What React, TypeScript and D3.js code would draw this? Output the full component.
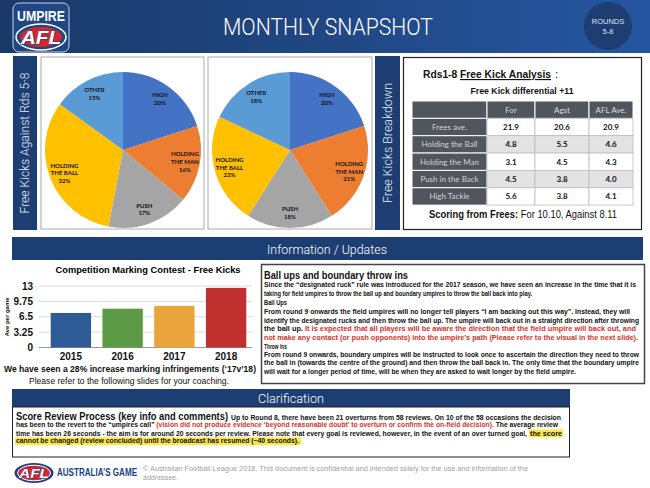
import React from "react";
import * as d3 from "d3";

// ---------- DATA ----------
const pieLabelLines = [["HIGH"], ["HOLDING", "THE MAN"], ["PUSH"], ["HOLDING", "THE BALL"], ["OTHER"]];
const freesAgainstPct = [20, 16, 17, 32, 15];
const freesBreakdownPct = [20, 21, 18, 23, 18];
const pieColors = ["#4472c4", "#ed7d31", "#a5a5a5", "#ffc000", "#5b9bd5"];

const tableColumns = ["For", "Agst", "AFL Ave."];
const tableRows = ["Frees ave.", "Holding the Ball", "Holding the Man", "Push in the Back", "High Tackle"];
const forValues = [21.9, 4.8, 3.1, 4.5, 5.6];
const agstValues = [20.6, 5.5, 4.5, 3.8, 3.8];
const aflAveValues = [20.9, 4.6, 4.3, 4.0, 4.1];

const years = ["2015", "2016", "2017", "2018"];
const markingFrees = [7.3, 8.2, 8.8, 12.6];
const yTicks = [0, 3.25, 6.5, 9.75, 13];
const barColors = ["#2e5a95", "#5c9a45", "#e9a53c", "#c0302e"];

const RED = "#d5322c";
type Seg = { t: string; c?: string };
const infoLines: { segs: Seg[]; head?: boolean; title?: boolean }[] = [
  { segs: [{ t: "Ball ups and boundary throw ins" }], title: true },
  { segs: [{ t: "Since the \u201cdesignated ruck\u201d rule was introduced for the 2017 season, we have seen an increase in the time that it is" }] },
  { segs: [{ t: "taking for field umpires to throw the ball up and boundary umpires to throw the ball back into play." }] },
  { segs: [{ t: "Ball Ups" }], head: true },
  { segs: [{ t: "From round 9 onwards the field umpires will no longer tell players \u201cI am backing out this way\u201d. Instead, they will" }] },
  { segs: [{ t: "identify the designated rucks and then throw the ball up. The umpire will back out in a straight direction after throwing" }] },
  { segs: [{ t: "the ball up.  " }, { t: "It is expected that all players will be aware the direction that the field umpire will back out, and", c: RED }] },
  { segs: [{ t: "not make any contact (or push opponents) into the umpire\u2019s path (Please refer to the visual in the next slide).", c: RED }] },
  { segs: [{ t: "Throw Ins" }], head: true },
  { segs: [{ t: "From round 9 onwards, boundary umpires will be instructed to look once to ascertain the direction they need to throw" }] },
  { segs: [{ t: "the ball in (towards the centre of the ground) and then throw the ball back in. The only time that the boundary umpire" }] },
  { segs: [{ t: "will wait for a longer period of time, will be when they are asked to wait longer by the field umpire." }] },
];
const infoY = [279, 287, 295.5, 305, 314, 322.5, 331, 339.5, 348.5, 356.5, 365, 373.5];
const infoLen = [144, 372, 268, 23, 366, 375, 372, 374, 23, 375, 375, 312];

const W = 650, H = 488;
const SANS = "'Liberation Sans', Arial, sans-serif";
const LIGHT = "Roboto, 'Liberation Sans', sans-serif";
const DARKBLUE = "#1c3e73";

function Pie({ cx, cy, values }: { cx: number; cy: number; values: number[] }) {
  const r = 78;
  const arcs = d3.pie<number>().sort(null).value((d) => d)(values);
  const arc = d3.arc<d3.PieArcDatum<number>>().innerRadius(0).outerRadius(r);
  const lab = d3.arc<d3.PieArcDatum<number>>().innerRadius(63).outerRadius(63);
  return (
    <g transform={`translate(${cx},${cy})`}>
      {arcs.map((a, i) => (
        <path key={i} d={arc(a) || ""} fill={pieColors[i]} />
      ))}
      {arcs.map((a, i) => {
        const [x, y] = lab.centroid(a);
        const lines = [...pieLabelLines[i], `${values[i]}%`];
        const lh = 7.6;
        const y0 = y - ((lines.length - 1) * lh) / 2 + 2.2;
        return (
          <text key={i} textAnchor="middle" fontFamily="Lato, sans-serif" fontWeight="bold" fontSize={6} fill="#111">
            {lines.map((l, j) => (
              <tspan key={j} x={x} y={y0 + j * lh}>{l}</tspan>
            ))}
          </text>
        );
      })}
    </g>
  );
}

function Table() {
  const colX = [412, 487, 535, 589, 633];
  const top = 101, rh = 17.35;
  const cols = [forValues, agstValues, aflAveValues];
  const fmt = d3.format(".1f");
  const dark = "#50555e";
  const out: React.ReactNode[] = [];
  for (let c = 0; c < 4; c++) {
    out.push(<rect key={`h${c}`} x={colX[c]} y={top} width={colX[c + 1] - colX[c]} height={rh} fill={dark} stroke="#fff" strokeWidth={1} />);
    if (c > 0)
      out.push(
        <text key={`ht${c}`} x={(colX[c] + colX[c + 1]) / 2} y={top + rh / 2 + 3} textAnchor="middle" fontSize={8} fontFamily="Lato, sans-serif" fill="#d9d9d9">
          {tableColumns[c - 1]}
        </text>
      );
  }
  tableRows.forEach((row, r) => {
    const y = top + rh * (r + 1);
    out.push(<rect key={`l${r}`} x={colX[0]} y={y} width={colX[1] - colX[0]} height={rh} fill={dark} stroke="#fff" strokeWidth={1} />);
    out.push(
      <text key={`lt${r}`} x={(colX[0] + colX[1]) / 2} y={y + rh / 2 + 3} textAnchor="middle" fontSize={8} fontFamily="Lato, sans-serif" fill="#d4d4d4">
        {row}
      </text>
    );
    cols.forEach((vals, c) => {
      out.push(<rect key={`c${r}${c}`} x={colX[c + 1]} y={y} width={colX[c + 2] - colX[c + 1]} height={rh} fill={r % 2 ? "#e3e3e3" : "#fff"} stroke="#bdbdbd" strokeWidth={0.8} />);
      out.push(
        <text key={`ct${r}${c}`} x={(colX[c + 1] + colX[c + 2]) / 2} y={y + rh / 2 + 3} textAnchor="middle" fontSize={8} fontWeight="bold" fontFamily="Lato, sans-serif" fill="#111">
          {fmt(vals[r])}
        </text>
      );
    });
  });
  return <g>{out}</g>;
}

function BarChart() {
  const x = d3.scaleBand<string>().domain(years).range([45, 252]).paddingInner(0.22).paddingOuter(0.11);
  const y = d3.scaleLinear().domain([0, 13]).range([347.5, 286]);
  return (
    <g>
      <text x={148} y={273} textAnchor="middle" fontSize={9} fontWeight="bold" fontFamily={SANS} textLength={185} lengthAdjust="spacingAndGlyphs">
        Competition Marking Contest - Free Kicks
      </text>
      {yTicks.map((t) => (
        <g key={t}>
          <line x1={39} x2={252} y1={y(t)} y2={y(t)} stroke={t === 0 ? "#999" : "#d0d0d0"} strokeWidth={t === 0 ? 1 : 0.8} />
          <text x={33} y={y(t) + 3.6} textAnchor="end" fontSize={10} fontWeight="bold" fontFamily={SANS} fill="#111">
            {t}
          </text>
        </g>
      ))}
      {years.map((yr, i) => (
        <rect key={yr} x={x(yr)} y={y(markingFrees[i])} width={x.bandwidth()} height={y(0) - y(markingFrees[i])} fill={barColors[i]} />
      ))}
      {years.map((yr) => (
        <text key={yr} x={(x(yr) || 0) + x.bandwidth() / 2} y={359.5} textAnchor="middle" fontSize={10} fontWeight="bold" fontFamily={SANS} fill="#111">
          {yr}
        </text>
      ))}
      <text transform="translate(9,317) rotate(-90)" textAnchor="middle" fontSize={6} fontWeight="bold" fontFamily={SANS} fill="#111">
        Ave per game
      </text>
      <text x={130} y={371.5} textAnchor="middle" fontSize={9.5} fontWeight="bold" fontFamily={SANS} textLength={252} lengthAdjust="spacingAndGlyphs" fill="#111">
        We have seen a 28% increase marking infringements (&#8216;17v&#8217;18)
      </text>
      <text x={129} y={384} textAnchor="middle" fontSize={9} fontFamily={SANS} textLength={200} lengthAdjust="spacingAndGlyphs" fill="#111">
        Please refer to the following slides for your coaching.
      </text>
    </g>
  );
}

export default function App() {
  return (
    <svg width={W} height={H} viewBox={`0 0 ${W} ${H}`} style={{ position: "absolute", left: 0, top: 0, background: "#fff" }} fontFamily={SANS}>
      <defs>
        <linearGradient id="hdr" x1="0" x2="1" y1="0" y2="0">
          <stop offset="0" stopColor="#1a3868" />
          <stop offset="1" stopColor="#2656a0" />
        </linearGradient>
      </defs>
      {/* Header */}
      <rect x={0} y={0} width={W} height={53} fill="url(#hdr)" />
      <g>
        <rect x={13} y={3} width={56} height={49} rx={6} fill="#1f4785" stroke="#c9d3e6" strokeWidth={1} />
        <text x={41} y={21} textAnchor="middle" fontSize={15} fontWeight="bold" fill="#fff" textLength={48} lengthAdjust="spacingAndGlyphs">
          UMPIRE
        </text>
        <ellipse cx={41} cy={37} rx={25} ry={13} fill="#1f4785" stroke="#fff" strokeWidth={1.5} />
        <ellipse cx={41} cy={37} rx={21} ry={10} fill="#d7262b" />
        <text x={41} y={44} textAnchor="middle" fontSize={19} fontWeight="bold" fontStyle="italic" fill="#fff" stroke="#1f4785" strokeWidth={1} paintOrder="stroke" textLength={40} lengthAdjust="spacingAndGlyphs">
          AFL
        </text>
      </g>
      <text x={328} y={35} textAnchor="middle" fontSize={23} fontWeight={300} fontFamily={LIGHT} fill="#fff" textLength={210} lengthAdjust="spacingAndGlyphs">
        MONTHLY SNAPSHOT
      </text>
      <circle cx={608} cy={26} r={24} fill="#1d3d73" />
      <text x={608} y={24} textAnchor="middle" fontSize={7.5} fill="#dfe5f0">ROUNDS</text>
      <text x={608} y={34} textAnchor="middle" fontSize={7.5} fill="#dfe5f0">5-8</text>

      {/* Pie panels */}
      <rect x={13} y={56} width={24} height={174} fill={DARKBLUE} />
      <text transform="translate(29,143) rotate(-90)" textAnchor="middle" fontSize={12.5} fontWeight={300} fontFamily={LIGHT} fill="#e8ecf5" textLength={141} lengthAdjust="spacingAndGlyphs">
        Free Kicks Against Rds 5-8
      </text>
      <rect x={41} y={57} width={163} height={172} fill="#fff" stroke="#aaa" strokeWidth={1} />
      <Pie cx={123} cy={150} values={freesAgainstPct} />
      <rect x={208} y={57} width={164} height={172} fill="#fff" stroke="#aaa" strokeWidth={1} />
      <Pie cx={290} cy={150} values={freesBreakdownPct} />
      <rect x={375} y={56} width={25} height={174} fill={DARKBLUE} />
      <text transform="translate(392,143) rotate(-90)" textAnchor="middle" fontSize={12.5} fontWeight={300} fontFamily={LIGHT} fill="#e8ecf5" textLength={120} lengthAdjust="spacingAndGlyphs">
        Free Kicks Breakdown
      </text>

      {/* Table panel */}
      <rect x={403.5} y={57.5} width={238} height={172} fill="#fff" stroke="#222" strokeWidth={1.2} />
      <text x={423} y={78} fontSize={11.5} fontWeight="bold" textLength={128} lengthAdjust="spacingAndGlyphs" fill="#111">
        Rds1-8 <tspan style={{ textDecoration: "underline" }}>Free Kick Analysis</tspan>
      </text>
      <text x={555} y={78} fontSize={11.5} fill="#111">:</text>
      <text x={522} y={94} textAnchor="middle" fontSize={9.5} fontWeight="bold" textLength={103} lengthAdjust="spacingAndGlyphs" fill="#111">
        Free Kick differential +11
      </text>
      <Table />
      <text x={523} y={218} textAnchor="middle" fontSize={10.5} textLength={188} lengthAdjust="spacingAndGlyphs" fill="#111">
        <tspan fontWeight="bold">Scoring from Frees:</tspan>
        <tspan>  For 10.10, Against 8.11</tspan>
      </text>

      {/* Information / Updates */}
      <rect x={12} y={237} width={631} height={23} fill={DARKBLUE} />
      <text x={327} y={254} textAnchor="middle" fontSize={13} fontWeight={300} fontFamily={LIGHT} fill="#fff" textLength={120} lengthAdjust="spacingAndGlyphs">
        Information / Updates
      </text>
      <BarChart />
      <rect x={261.5} y={264.5} width={383} height={119} fill="#fff" stroke="#444" strokeWidth={1.5} />
      {infoLines.map((ln, i) => (
        <text key={i} x={264} y={infoY[i]} fontSize={ln.title ? 10.5 : 7} fontWeight="bold" textLength={infoLen[i]} lengthAdjust="spacingAndGlyphs" fill="#111">
          {ln.segs.map((s, j) => (
            <tspan key={j} fill={s.c || "#111"}>{s.t}</tspan>
          ))}
        </text>
      ))}

      {/* Clarification */}
      <rect x={12} y={389} width={558} height={18} fill={DARKBLUE} />
      <text x={291} y={403} textAnchor="middle" fontSize={13} fontWeight={300} fontFamily={LIGHT} fill="#fff" textLength={66} lengthAdjust="spacingAndGlyphs">
        Clarification
      </text>
      <rect x={12.5} y={407} width={557} height={50} fill="#fff" stroke="#222" strokeWidth={1} />
      <text x={16} y={420} fontSize={11} fontWeight="bold" textLength={212} lengthAdjust="spacingAndGlyphs" fill="#111">
        Score Review Process (key info and comments)
      </text>
      <text x={231} y={419.5} fontSize={6.6} fontWeight="bold" textLength={330} lengthAdjust="spacingAndGlyphs" fill="#111">
        Up to Round 8, there have been 21 overturns from 58 reviews. On 10 of the 58 occasions the decision
      </text>
      <text x={16} y={427} fontSize={6.6} fontWeight="bold" textLength={542} lengthAdjust="spacingAndGlyphs" fill="#111">
        <tspan>has been to the revert to the &#8220;umpires call&#8221; </tspan>
        <tspan fill={RED}>(vision did not produce evidence &#8216;beyond reasonable doubt&#8217; to overturn or confirm the on-field decision).</tspan>
        <tspan> The average review</tspan>
      </text>
      <text x={16} y={435.5} fontSize={6.6} fontWeight="bold" textLength={511} lengthAdjust="spacingAndGlyphs" fill="#111">
        time has been 26 seconds - the aim is for around 20 seconds per review. Please note that every goal is reviewed, however, in the event of an over turned goal,
      </text>
      <rect x={529} y={429.5} width={34} height={7.8} fill="#fde83f" />
      <text x={530} y={435.5} fontSize={6.6} fontWeight="bold" textLength={32} lengthAdjust="spacingAndGlyphs" fill="#111">
        the score
      </text>
      <rect x={15} y={437.3} width={286} height={7.8} fill="#fde83f" />
      <text x={16} y={443.3} fontSize={6.6} fontWeight="bold" textLength={283} lengthAdjust="spacingAndGlyphs" fill="#111">
        cannot be changed (review concluded) until the broadcast has resumed (~40 seconds).
      </text>

      {/* Footer */}
      <ellipse cx={34} cy={473} rx={19.5} ry={10} fill="#1d3f8a" />
      <ellipse cx={34} cy={473} rx={16.5} ry={7.8} fill="#d7262b" stroke="#fff" strokeWidth={1} />
      <text x={34} y={478} textAnchor="middle" fontSize={13} fontWeight="bold" fontStyle="italic" fill="#fff" stroke="#1d3f8a" strokeWidth={0.8} paintOrder="stroke" textLength={30} lengthAdjust="spacingAndGlyphs">
        AFL
      </text>
      <text x={57} y={476} fontSize={11} fontWeight="bold" fill="#1d3f8a" textLength={80} lengthAdjust="spacingAndGlyphs">
        AUSTRALIA&#8217;S GAME
      </text>
      <text x={143} y={471} fontSize={6.5} fill="#a0a0a0" textLength={385} lengthAdjust="spacingAndGlyphs">
        &#169; Australian Football League 2018. This document is confidential and intended solely for the use and information of the
      </text>
      <text x={143} y={479.5} fontSize={6.5} fill="#a0a0a0" textLength={35} lengthAdjust="spacingAndGlyphs">
        addressee.
      </text>
    </svg>
  );
}
